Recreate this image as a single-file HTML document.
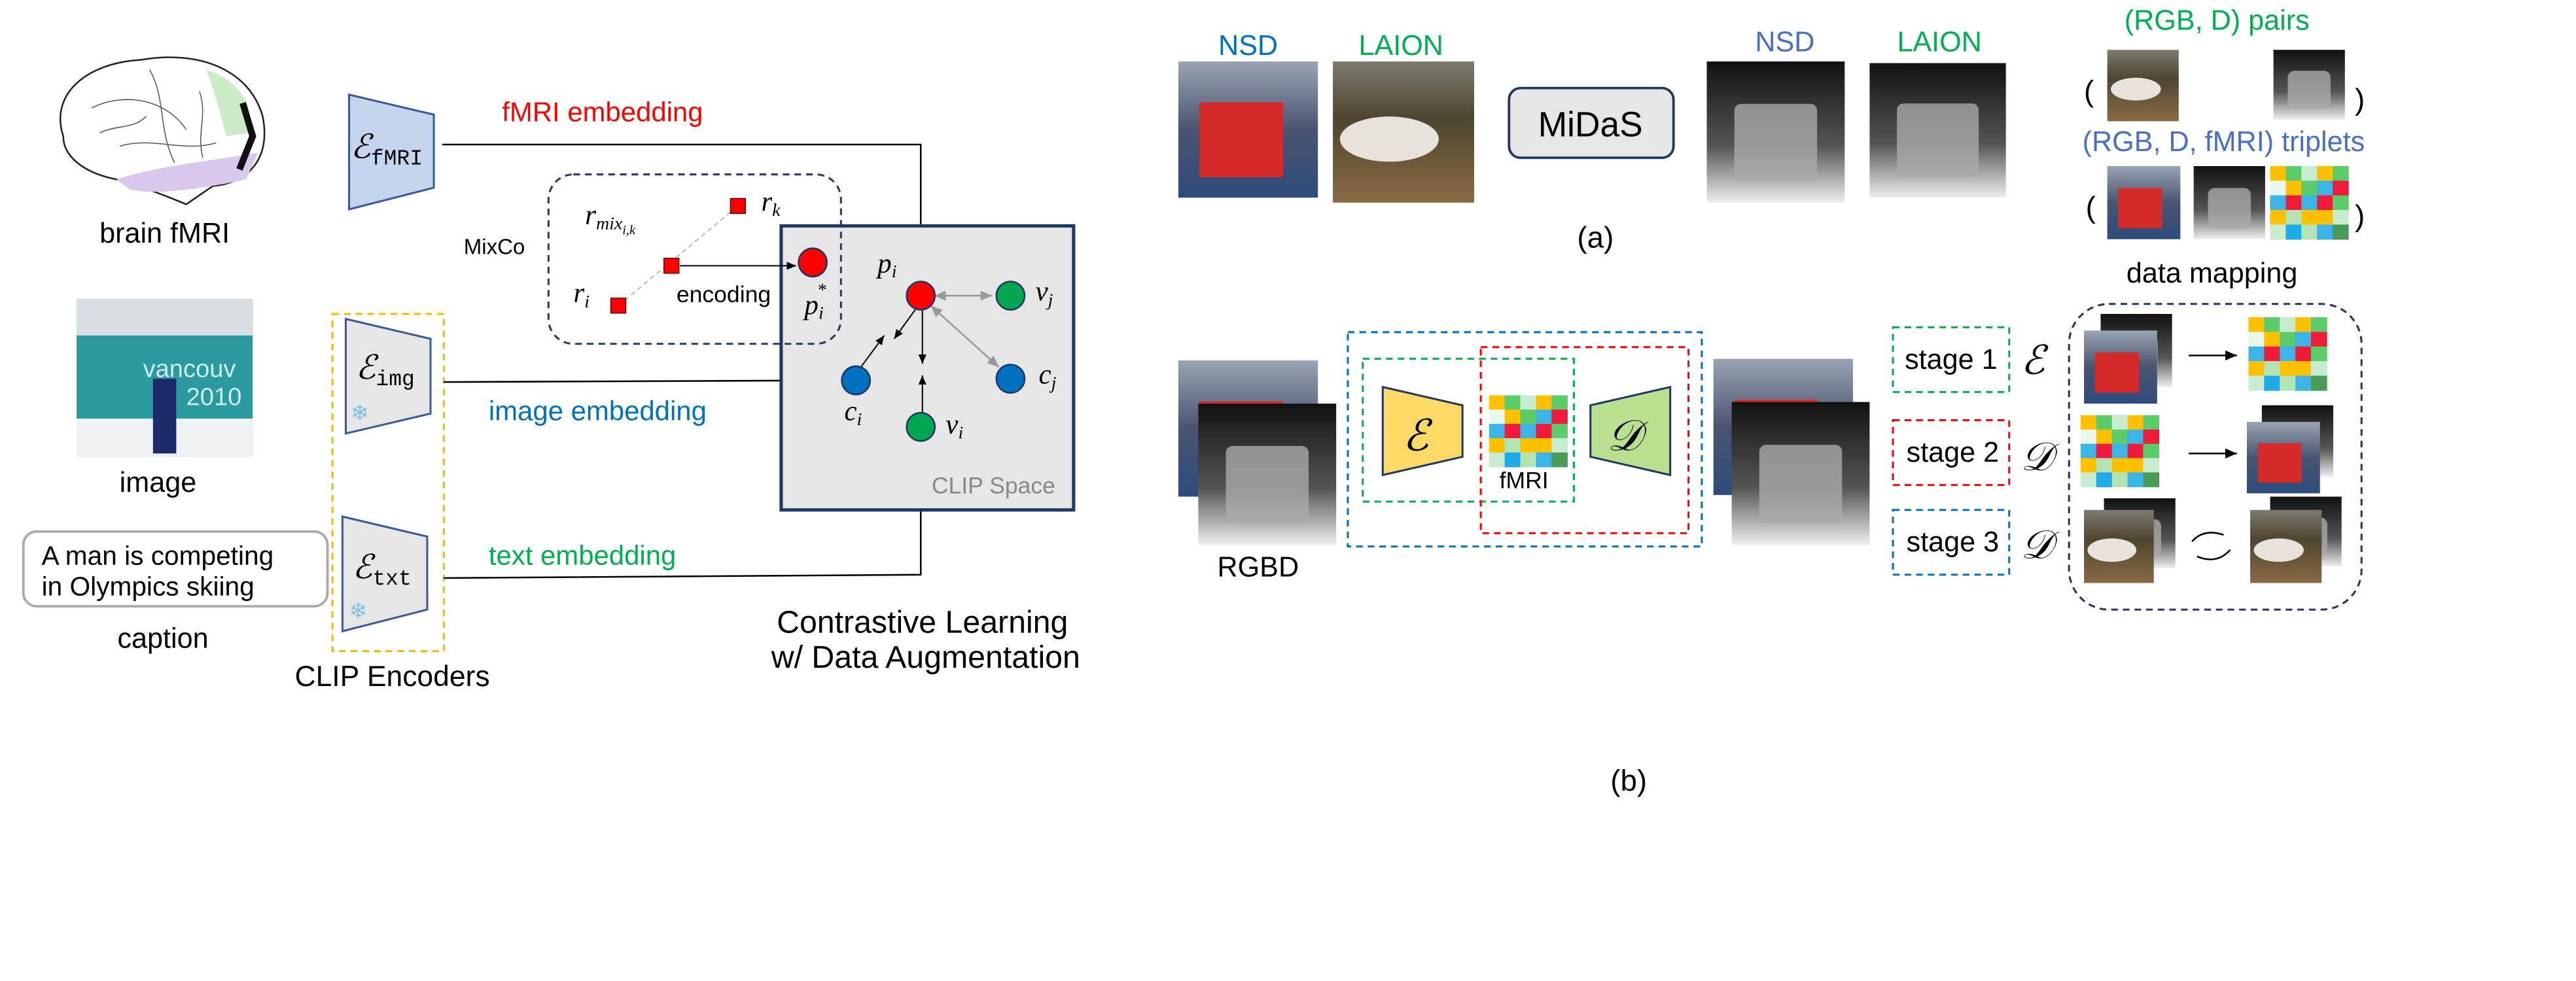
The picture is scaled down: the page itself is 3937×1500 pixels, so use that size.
<!DOCTYPE html>
<html><head><meta charset="utf-8">
<style>
html,body{margin:0;padding:0;background:#fff;}
svg{display:block;}
text{font-family:"Liberation Sans","DejaVu Sans",sans-serif;}
.it{font-family:"Liberation Serif",serif;font-style:italic;}
</style></head>
<body>
<svg id="fig" xmlns="http://www.w3.org/2000/svg" width="3937" height="1500" viewBox="0 0 1550 590.6">
<defs>
<linearGradient id="dep" x1="0" y1="0" x2="0" y2="1"><stop offset="0" stop-color="#111"/><stop offset="0.6" stop-color="#555"/><stop offset="1" stop-color="#eee"/></linearGradient>
<linearGradient id="bus" x1="0" y1="0" x2="0" y2="1"><stop offset="0" stop-color="#9aa4b4"/><stop offset="0.5" stop-color="#4a5470"/><stop offset="1" stop-color="#2d4c7c"/></linearGradient>
<linearGradient id="horse" x1="0" y1="0" x2="0" y2="1"><stop offset="0" stop-color="#7d7a70"/><stop offset="0.4" stop-color="#4d4630"/><stop offset="1" stop-color="#8a6a44"/></linearGradient>
<marker id="ah" markerWidth="8" markerHeight="8" refX="7" refY="4" orient="auto"><path d="M0,1 L7,4 L0,7 z" fill="#000"/></marker>
<marker id="ahg" markerWidth="8" markerHeight="8" refX="7" refY="4" orient="auto-start-reverse"><path d="M0,1 L7,4 L0,7 z" fill="#999"/></marker>
</defs>
<g id="photos"></g>

<!-- LEFT PANEL -->
<g>
<path d="M38,82 C30,58 50,38 85,36 C120,30 150,42 158,70 C163,95 150,110 128,112 L112,123 C100,118 85,112 70,108 C50,104 38,94 38,82 z" fill="#fff" stroke="#222" stroke-width="1"/>
<path d="M124,42 C143,48 153,62 150,80 L136,82 C132,65 128,52 124,42z" fill="#c9ecc4"/>
<path d="M70,108 C95,100 125,97 155,92 L148,108 C125,113 95,118 78,114z" fill="#d8c8ec"/>
<path d="M55,65 C75,55 100,60 112,78 M72,88 C92,82 110,92 130,86 M90,42 C100,60 95,78 105,98 M60,80 C70,75 80,78 88,70 M120,55 C125,70 118,80 122,95" fill="none" stroke="#555" stroke-width="0.6"/>
<path d="M146,62 L152,82 L144,102" fill="none" stroke="#111" stroke-width="4"/>
</g>
<text x="99" y="146" font-size="17" text-anchor="middle">brain fMRI</text>

<g>
<rect x="46" y="180" width="106" height="95" fill="#2a9a9e"/>
<rect x="46" y="180" width="106" height="22" fill="#d8dde2"/>
<rect x="46" y="252" width="106" height="23" fill="#eef2f5"/>
<text x="86" y="227" font-size="15" fill="#cdeeee">vancouv</text>
<text x="112" y="244" font-size="15" fill="#cdeeee">2010</text>
<rect x="92" y="228" width="14" height="45" fill="#1c2a6a"/>
</g>
<text x="95" y="296" font-size="17" text-anchor="middle">image</text>

<rect x="14" y="320" width="183" height="45" rx="8" fill="#fff" stroke="#aaa" stroke-width="1.5"/>
<text x="25" y="340" font-size="16">A man is competing</text>
<text x="25" y="358.5" font-size="16">in Olympics skiing</text>
<text x="98" y="390" font-size="17" text-anchor="middle">caption</text>

<polygon points="210,57 261,69 261,113 210,126" fill="#c5d5ee" stroke="#3b5a9a" stroke-width="1.2"/>
<text x="211" y="95" class="it" font-size="20">ℰ<tspan font-family="Liberation Mono,monospace" font-style="normal" font-size="13" dy="4">fMRI</tspan></text>

<rect x="200" y="189" width="67" height="203" fill="none" stroke="#f5b800" stroke-width="1.2" stroke-dasharray="4,3"/>
<polygon points="208,192 259,204 259,249 208,261" fill="#e6e6e6" stroke="#3b5a9a" stroke-width="1.2"/>
<text x="214" y="228" class="it" font-size="20">ℰ<tspan font-family="Liberation Mono,monospace" font-style="normal" font-size="13" dy="4">img</tspan></text>
<text x="211" y="253" font-size="13" fill="#7cc0e8">❄</text>
<polygon points="206,311 257,323 257,367 206,380" fill="#e6e6e6" stroke="#3b5a9a" stroke-width="1.2"/>
<text x="212" y="348" class="it" font-size="20">ℰ<tspan font-family="Liberation Mono,monospace" font-style="normal" font-size="13" dy="4">txt</tspan></text>
<text x="210" y="372" font-size="13" fill="#7cc0e8">❄</text>
<text x="236" y="413" font-size="17.5" text-anchor="middle">CLIP Encoders</text>

<text x="302" y="73" font-size="16.5" fill="#ff0000">fMRI embedding</text>
<path d="M266,87 L554,87 L554,168" fill="none" stroke="#000" stroke-width="1" marker-end="url(#ah)"/>
<text x="294" y="253" font-size="16.5" fill="#0070c0">image embedding</text>
<path d="M267,230 L504,229" fill="none" stroke="#000" stroke-width="1" marker-end="url(#ah)"/>
<text x="294" y="340" font-size="16.5" fill="#00b050">text embedding</text>
<path d="M267,348 L554,346 L554,268" fill="none" stroke="#000" stroke-width="1" marker-end="url(#ah)"/>

<rect x="470" y="136" width="176" height="171" fill="#e6e6e6" stroke="#1f3864" stroke-width="2"/>
<text x="635" y="297" font-size="14" fill="#888" text-anchor="end">CLIP Space</text>

<rect x="330" y="105" width="176" height="102" rx="15" fill="none" stroke="#2a3a5a" stroke-width="1.2" stroke-dasharray="4,3"/>
<text x="279" y="153" font-size="13">MixCo</text>
<line x1="372" y1="184" x2="444" y2="124" stroke="#bbb" stroke-width="0.8" stroke-dasharray="3,2"/>
<rect x="439.5" y="119.5" width="9" height="9" fill="#ff0000" stroke="#600" stroke-width="0.6"/>
<rect x="399.5" y="155.5" width="9" height="9" fill="#ff0000" stroke="#600" stroke-width="0.6"/>
<rect x="367.5" y="179.5" width="9" height="9" fill="#ff0000" stroke="#600" stroke-width="0.6"/>
<text x="458" y="127" class="it" font-size="17">r<tspan font-size="11" dy="3">k</tspan></text>
<text x="352" y="135" class="it" font-size="17">r<tspan font-size="11" dy="3">mix</tspan><tspan font-size="8" dy="3">i,k</tspan></text>
<text x="345" y="182" class="it" font-size="17">r<tspan font-size="11" dy="3">i</tspan></text>
<text x="407" y="182" font-size="14">encoding</text>
<line x1="409" y1="160" x2="479" y2="160" stroke="#000" stroke-width="0.8" marker-end="url(#ah)"/>
<circle cx="489" cy="158" r="8.5" fill="#ff0000" stroke="#1f3864" stroke-width="1"/>
<text x="484" y="189" class="it" font-size="17">p<tspan font-size="11" dy="3">i</tspan><tspan font-size="11" dx="-4" dy="-14">*</tspan></text>

<line x1="562" y1="178" x2="597" y2="178" stroke="#999" stroke-width="1" marker-start="url(#ahg)" marker-end="url(#ahg)"/>
<line x1="560" y1="184" x2="601" y2="221" stroke="#999" stroke-width="1" marker-start="url(#ahg)" marker-end="url(#ahg)"/>
<line x1="551" y1="186" x2="538" y2="204" stroke="#000" stroke-width="0.8" marker-end="url(#ah)"/>
<line x1="518" y1="221" x2="532" y2="202" stroke="#000" stroke-width="0.8" marker-end="url(#ah)"/>
<line x1="555" y1="187" x2="555" y2="219" stroke="#000" stroke-width="0.8" marker-end="url(#ah)"/>
<line x1="555" y1="249" x2="555" y2="226" stroke="#000" stroke-width="0.8" marker-end="url(#ah)"/>
<circle cx="554" cy="178" r="8.5" fill="#ff0000" stroke="#1f3864" stroke-width="1"/>
<circle cx="608" cy="178" r="8.5" fill="#00a650" stroke="#1f3864" stroke-width="1"/>
<circle cx="608" cy="228" r="8.5" fill="#0070c0" stroke="#1f3864" stroke-width="1"/>
<circle cx="515" cy="229" r="8.5" fill="#0070c0" stroke="#1f3864" stroke-width="1"/>
<circle cx="554" cy="257" r="8.5" fill="#00a650" stroke="#1f3864" stroke-width="1"/>
<text x="528" y="164" class="it" font-size="17">p<tspan font-size="11" dy="3">i</tspan></text>
<text x="623" y="181" class="it" font-size="17">v<tspan font-size="11" dy="3">j</tspan></text>
<text x="625" y="231" class="it" font-size="17">c<tspan font-size="11" dy="3">j</tspan></text>
<text x="508" y="253" class="it" font-size="17">c<tspan font-size="11" dy="3">i</tspan></text>
<text x="569" y="261" class="it" font-size="17">v<tspan font-size="11" dy="3">i</tspan></text>
<text x="555" y="381" font-size="19" text-anchor="middle">Contrastive Learning</text>
<text x="557" y="402" font-size="19" text-anchor="middle">w/ Data Augmentation</text>

<!-- RIGHT PANEL (a) -->
<text x="751" y="33" font-size="17" fill="#0070c0" text-anchor="middle">NSD</text>
<text x="843" y="33" font-size="17" fill="#00b050" text-anchor="middle">LAION</text>
<rect x="908" y="53" width="99" height="42" rx="7" fill="#e6e6e6" stroke="#1f3864" stroke-width="1.5"/>
<text x="957" y="82" font-size="21" text-anchor="middle">MiDaS</text>
<text x="1074" y="31" font-size="17" fill="#4a6fc4" text-anchor="middle">NSD</text>
<text x="1167" y="31" font-size="17" fill="#00b050" text-anchor="middle">LAION</text>
<text x="960" y="149" font-size="18" text-anchor="middle">(a)</text>
<text x="1334" y="18" font-size="17" fill="#00b050" text-anchor="middle">(RGB, D) pairs</text>
<text x="1338" y="91" font-size="17" fill="#4a6fc4" text-anchor="middle">(RGB, D, fMRI) triplets</text>
<text x="1254" y="61" font-size="18">(</text>
<text x="1417" y="66" font-size="18">)</text>
<text x="1255" y="131" font-size="18">(</text>
<text x="1417" y="136" font-size="18">)</text>
<text x="1331" y="170" font-size="17" text-anchor="middle">data mapping</text>

<!-- (b) -->
<rect x="811" y="200" width="213" height="129" fill="none" stroke="#0070c0" stroke-width="1.2" stroke-dasharray="4,3"/>
<rect x="820" y="216" width="127" height="86" fill="none" stroke="#00b050" stroke-width="1.2" stroke-dasharray="4,3"/>
<rect x="891" y="209" width="125" height="112" fill="none" stroke="#ff0000" stroke-width="1.2" stroke-dasharray="4,3"/>
<polygon points="832,233 880,244 880,275 832,286" fill="#ffd966" stroke="#1f3864" stroke-width="1.2"/>
<text x="844" y="271" class="it" font-size="26">ℰ</text>
<polygon points="957,244 1005,233 1005,286 957,275" fill="#b8e08e" stroke="#1f3864" stroke-width="1.2"/>
<text x="967" y="271" class="it" font-size="26">𝒟</text>
<text x="917" y="294" font-size="14" text-anchor="middle">fMRI</text>
<text x="757" y="347" font-size="17" text-anchor="middle">RGBD</text>

<rect x="1139" y="197" width="70" height="39" fill="none" stroke="#00b050" stroke-width="1.2" stroke-dasharray="4,3"/>
<text x="1174" y="222" font-size="17" text-anchor="middle">stage 1</text>
<rect x="1139" y="253" width="70" height="39" fill="none" stroke="#ff0000" stroke-width="1.2" stroke-dasharray="4,3"/>
<text x="1175" y="278" font-size="17" text-anchor="middle">stage 2</text>
<rect x="1139" y="307" width="70" height="39" fill="none" stroke="#0070c0" stroke-width="1.2" stroke-dasharray="4,3"/>
<text x="1175" y="332" font-size="17" text-anchor="middle">stage 3</text>
<text x="1216" y="225" class="it" font-size="24">ℰ</text>
<text x="1216" y="283" class="it" font-size="24">𝒟</text>
<text x="1216" y="336" class="it" font-size="24">𝒟</text>
<rect x="1245" y="183" width="176" height="184" rx="24" fill="none" stroke="#1f3864" stroke-width="1.2" stroke-dasharray="4,3"/>
<line x1="1317" y1="214" x2="1346" y2="214" stroke="#000" stroke-width="1" marker-end="url(#ah)"/>
<line x1="1317" y1="273" x2="1346" y2="273" stroke="#000" stroke-width="1" marker-end="url(#ah)"/>
<path d="M1338,322 Q1326,318 1319,326 M1322,335 Q1334,340 1342,331" fill="none" stroke="#000" stroke-width="1"/>
<text x="980" y="476" font-size="18" text-anchor="middle">(b)</text>
</svg>
<script>
var gridColors = ["#ffc000","#5ccb6a","#c8ecd0","#ffc000","#5ccb6a",
"#e8f8ec","#ffc000","#5ccb6a","#3cb4e6","#ee1c3a",
"#3cb4e6","#ee1c3a","#3cb4e6","#ee1c3a","#5ccb6a",
"#ffc000","#b4e4b4","#ffc000","#ffc000","#c8ecd0",
"#c8ecd0","#1eaae6","#b4e4b4","#3cb4e6","#4a9a5a"];
var NS="http://www.w3.org/2000/svg";
var g=document.getElementById('photos');
function mk(tag,attrs){var e=document.createElementNS(NS,tag);for(var k in attrs)e.setAttribute(k,attrs[k]);g.appendChild(e);return e;}
function bus(x,y,w,h,nm){
 var r=mk('rect',{x:x,y:y,width:w,height:h,fill:'url(#bus)'});
 
 
 var b=mk('rect',{x:x+w*0.15,y:y+h*0.3,width:w*0.6,height:h*0.55,fill:'#d42a2a'});
 
 
}
function horse(x,y,w,h,nm){
 var r=mk('rect',{x:x,y:y,width:w,height:h,fill:'url(#horse)'});
 
 
 var b=mk('ellipse',{cx:x+w*0.4,cy:y+h*0.55,rx:w*0.35,ry:h*0.16,fill:'#e8e2dc'});
 
 
}
function depth(x,y,w,h,nm){
 var r=mk('rect',{x:x,y:y,width:w,height:h,fill:'url(#dep)'});
 
 
 var b=mk('rect',{x:x+w*0.2,y:y+h*0.3,width:w*0.6,height:h*0.55,rx:4,fill:'#aaa',opacity:0.8});
 
 
}
function grid(x,y,w,h,nm){
 var cw=w/5,ch=h/5;
 for(var i=0;i<25;i++){
  var c=mk('rect',{x:x+(i%5)*cw,y:y+Math.floor(i/5)*ch,width:cw+0.3,height:ch+0.3,fill:gridColors[i]});
  
  
 }
}
bus(709,37,84,82,'nsd-photo');
horse(802,37,85,85,'laion-photo');
depth(1027,37,83,85,'nsd-depth');
depth(1125,38,82,81,'laion-depth');
horse(1268,30,43,43,'pair-rgb');
depth(1368,30,43,42,'pair-depth');
bus(1268,100,44,44,'triplet-rgb');
depth(1320,100,43,44,'triplet-depth');
grid(1366,100,47,44,'triplet-fmri');
bus(709,217,84,82,'rgbd-input-rgb');
depth(721,243,83,85,'rgbd-input-depth');
grid(896,238,47,43,'fmri-grid');
bus(1031,216,84,82,'rgbd-output-rgb');
depth(1042,242,83,86,'rgbd-output-depth');
depth(1264,189,43,44,'s1-depth');
bus(1254,199,44,44,'s1-rgb');
grid(1353,191,47,44,'s1-fmri');
grid(1252,250,47,43,'s2-fmri');
depth(1361,244,43,43,'s2-depth');
bus(1352,254,44,43,'s2-rgb');
depth(1266,300,43,42,'s3-depth-a');
horse(1254,307,42,44,'s3-rgb-a');
depth(1366,299,43,42,'s3-depth-b');
horse(1354,307,43,44,'s3-rgb-b');
</script>
</body></html>
